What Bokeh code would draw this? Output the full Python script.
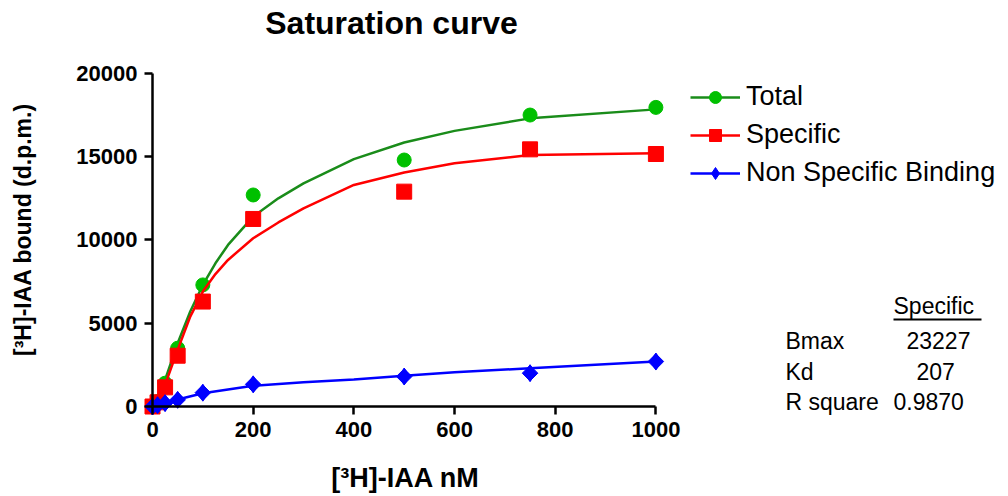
import math
from bokeh.plotting import figure
from bokeh.models import Legend, LegendItem, Label, Arrow, FixedTicker
from bokeh.embed import file_html
from bokeh.resources import INLINE

# ---- data ----
conc = [0, 10, 25, 50, 100, 200, 500, 750, 1000]
total = [0, 300, 1400, 3500, 7300, 12700, 14800, 17500, 17960]
specific = [0, 250, 1150, 3050, 6300, 11260, 12900, 15440, 15160]
nsb = [0, 80, 200, 400, 830, 1330, 1800, 2000, 2700]

fit_x = [18, 25, 50, 75, 100, 125, 150, 200, 250, 300, 400, 500, 600, 750, 1000]
fit_total = [150, 1600, 3800, 5700, 7300, 8600, 9700, 11400, 12500, 13400, 14850, 15850, 16550, 17300, 17840]
fit_specific = [150, 1300, 3400, 5400, 6900, 7950, 8800, 10100, 11050, 11900, 13300, 14050, 14600, 15100, 15200]
fit_nsb_x = [0, 50, 100, 200, 300, 400, 500, 600, 750, 1000]
fit_nsb = [0, 420, 800, 1240, 1450, 1620, 1840, 2050, 2300, 2700]

x_ticks = [0, 200, 400, 600, 800, 1000]
y_ticks = [0, 5000, 10000, 15000, 20000]

stats_rows = ["Bmax", "Kd", "R square"]
stats_vals = ["23227", "207", "0.9870"]

FONT = "Liberation Sans"

# layout constants (pixels)
W, H = 1006, 494
X0, Y0 = 152, 406          # pixel position of the data origin
PX_X = 0.5034              # px per nM
PX_Y = 0.016655            # px per d.p.m.

p = figure(title=None, frame_width=W, frame_height=H,
           min_border_left=0, min_border_right=0,
           min_border_top=0, min_border_bottom=0,
           x_range=(-X0 / PX_X, (W - X0) / PX_X),
           y_range=(-(H - Y0) / PX_Y, Y0 / PX_Y),
           output_backend="svg", toolbar_location=None)
p.grid.visible = False
p.outline_line_color = None
p.background_fill_color = "white"
p.border_fill_color = "white"

for ax in (p.xaxis[0], p.yaxis[0]):
    ax.fixed_location = 0
    ax.axis_line_width = 2.5
    ax.axis_line_color = "black"
    ax.major_tick_line_width = 2.5
    ax.major_tick_line_color = "black"
    ax.major_tick_out = 8
    ax.major_tick_in = 0
    ax.minor_tick_out = 0
    ax.minor_tick_in = 0
    ax.major_label_text_font = FONT
    ax.major_label_text_font_style = "bold"
    ax.major_label_text_font_size = "22px"
    ax.major_label_text_color = "black"

p.xaxis.bounds = (0, 1000)
p.yaxis.bounds = (0, 20000)
p.xaxis.ticker = FixedTicker(ticks=x_ticks)
p.yaxis.ticker = FixedTicker(ticks=y_ticks)
p.xaxis.major_label_standoff = 7
p.yaxis.major_label_standoff = 7

GREEN_LINE = "#1a8c1a"
GREEN_PT = "#00c000"
RED = "#ff0000"
BLUE = "#0000ff"

l_tot = p.line(fit_x, fit_total, line_color=GREEN_LINE, line_width=2.5)
s_tot = p.scatter(conc, total, marker="circle", size=14, fill_color=GREEN_PT, line_color=GREEN_PT)
l_spe = p.line(fit_x, fit_specific, line_color=RED, line_width=2.5)
s_spe = p.scatter(conc, specific, marker="square", size=15, fill_color=RED, line_color=RED)
l_nsb = p.line(fit_nsb_x, fit_nsb, line_color=BLUE, line_width=2.5)
# diamond marker: narrow diamond plus a 45-degree square, giving a fuller rhombus
s_nsb = p.scatter(conc, nsb, marker="diamond", size=17, fill_color=BLUE, line_color=BLUE)
p.scatter(conc, nsb, marker="square", angle=math.pi / 4, size=11,
          fill_color=BLUE, line_color=BLUE)

legend = Legend(items=[
    LegendItem(label="Total", renderers=[l_tot, s_tot]),
    LegendItem(label="Specific", renderers=[l_spe, s_spe]),
    LegendItem(label="Non Specific Binding", renderers=[l_nsb, s_nsb]),
], location=(690, 306), padding=0, margin=0, spacing=7,
   label_height=30, glyph_height=30, glyph_width=50, label_standoff=6,
   label_text_font=FONT, label_text_font_size="27px", label_text_color="black",
   border_line_color=None, background_fill_alpha=0)
p.add_layout(legend)


def dx(px):
    return (px - X0) / PX_X


def dy(py):
    return (Y0 - py) / PX_Y


p.add_layout(Label(x=dx(391), y=dy(22), text="Saturation curve", text_align="center",
                   text_baseline="middle", text_font=FONT, text_font_style="bold",
                   text_font_size="32px", text_color="black"))

# axis titles
p.add_layout(Label(x=dx(405), y=dy(477), text="[³H]-IAA nM", text_align="center",
                   text_baseline="middle", text_font=FONT, text_font_style="bold",
                   text_font_size="27px", text_color="black"))
p.add_layout(Label(x=dx(22), y=dy(229), text="[³H]-IAA bound (d.p.m.)", angle=math.pi / 2,
                   text_align="center", text_baseline="middle", text_font=FONT,
                   text_font_style="bold", text_font_size="23px", text_color="black"))

# fit statistics
p.add_layout(Label(x=dx(893), y=dy(305), text="Specific", text_baseline="middle",
                   text_font=FONT, text_font_size="23px", text_color="black"))
p.add_layout(Arrow(x_start=dx(893), y_start=dy(319), x_end=dx(981), y_end=dy(319),
                   start=None, end=None, line_width=2, line_color="black"))

row_y = [340, 371, 401]
val_x = [906, 916, 893]
for name, val, ry, vx in zip(stats_rows, stats_vals, row_y, val_x):
    p.add_layout(Label(x=dx(785), y=dy(ry), text=name, text_baseline="middle",
                       text_font=FONT, text_font_size="23px", text_color="black"))
    p.add_layout(Label(x=dx(vx), y=dy(ry), text=val, text_baseline="middle",
                       text_font=FONT, text_font_size="23px", text_color="black"))

open("out.html", "w").write(file_html(p, INLINE))
